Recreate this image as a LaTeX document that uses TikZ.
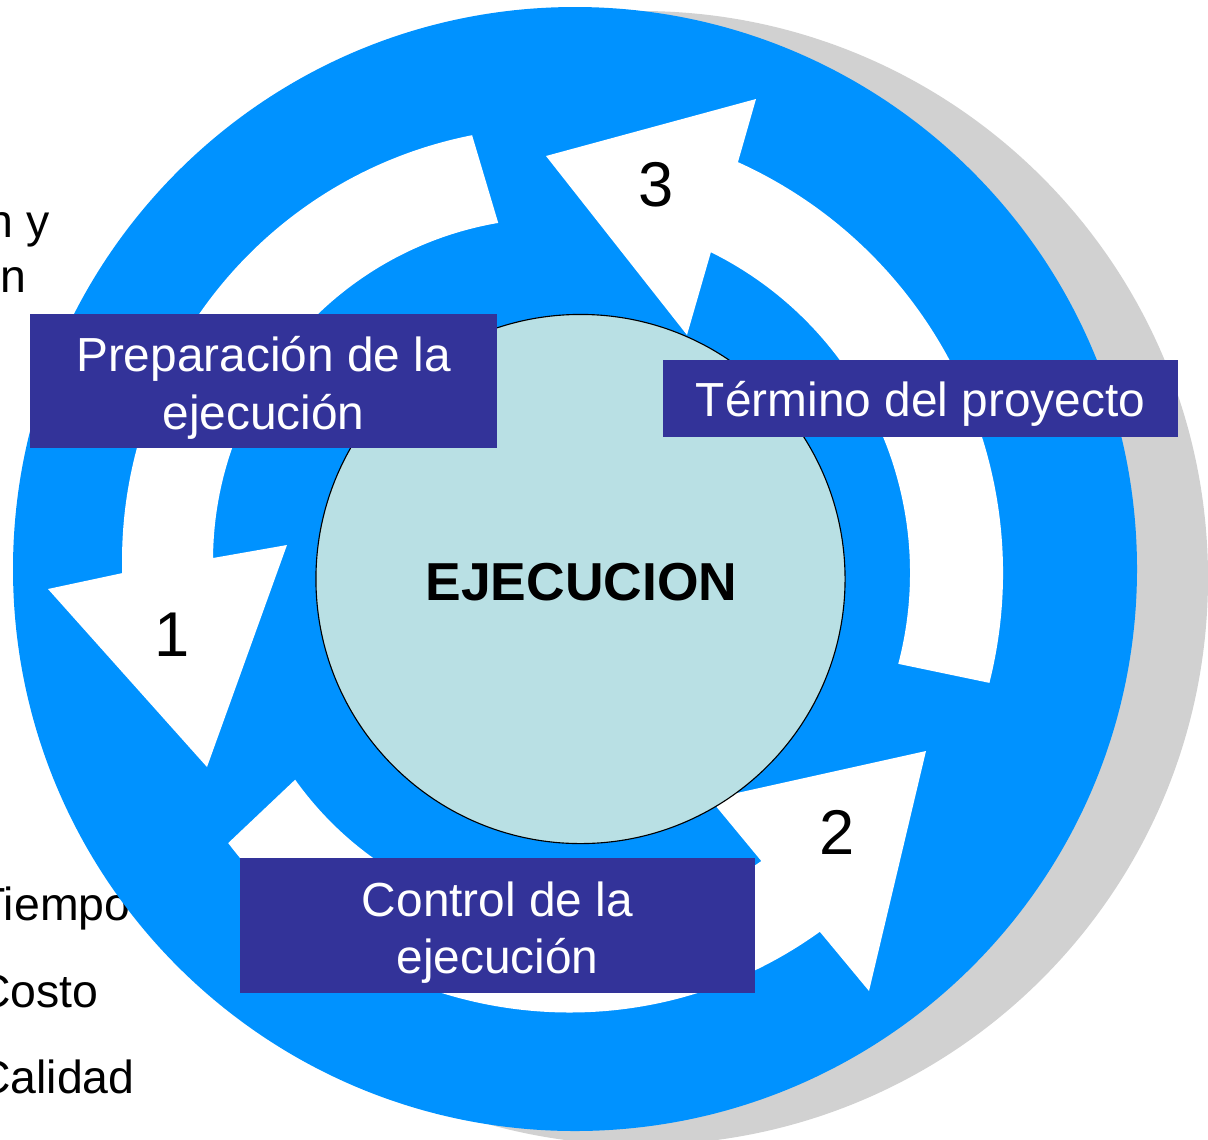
\documentclass[tikz,border=0pt]{standalone}
\usepackage{fontspec}
\setmainfont{Liberation Sans}
\usepackage{xcolor}
\usepackage{tikz}
\usetikzlibrary{calc}

\definecolor{ringblue}{RGB}{0,146,255}
\definecolor{shadowgrey}{RGB}{209,209,209}
\definecolor{boxnavy}{RGB}{51,51,153}
\definecolor{corefill}{RGB}{185,224,228}

\begin{document}
\begin{tikzpicture}[x=0.025cm, y=-0.025cm,
	stagebox/.style={rectangle, fill=boxnavy, inner sep=0pt},
	stagetext/.style={text=white, align=center, inner sep=0pt, font=\fontsize{34}{41}\selectfont},
	stepnum/.style={inner sep=0pt, font=\fontsize{45}{45}\selectfont},
	sidetext/.style={inner sep=0pt, font=\fontsize{33}{33}\selectfont}]

	\useasboundingbox (0,0) rectangle (1208,1139);
	\clip (0,0) rectangle (1208,1139);

	\node (side1) [sidetext, anchor=base east] at (50,237) {n y};
	\node (side2) [sidetext, anchor=base east] at (27,292) {n};
	\node (tiempo) [sidetext, anchor=base west] at (-23,920) {Tiempo};
	\node (costo) [sidetext, anchor=base west] at (-23,1007) {Costo};
	\node (calidad) [sidetext, anchor=base west] at (-23,1093) {Calidad};

	\fill[shadowgrey] (641,578) circle [radius=567];
	\fill[ringblue] (575,569) circle [radius=562];

	\coordinate (c1) at (556,561);
	\coordinate (c2) at (569.5,584);
	\coordinate (c3) at (552,573);

	\fill[white] ($(c1)+(258.85:434)$) arc[start angle=258.85, end angle=178.4, radius=434]
		-- (48,589) -- (207,767) -- (287,545)
		-- ($(c1)+(180.5:343)$) arc[start angle=180.5, end angle=260.3, radius=343] -- cycle;
	\fill[white] ($(c2)+(142.8:428.5)$) arc[start angle=142.8, end angle=54.25, radius=428.5]
		-- (869,991) -- (926,751) -- (710,799)
		-- ($(c2)+(55.3:337)$) arc[start angle=55.3, end angle=144.5, radius=337] -- cycle;
	\fill[white] ($(c3)+(14.1:451)$) arc[start angle=14.1, end angle=-65.65, radius=451]
		-- (756,99) -- (546,156) -- (687,335)
		-- ($(c3)+(-63.65:358)$) arc[start angle=-63.65, end angle=14.7, radius=358] -- cycle;

	\node (core) [circle, draw=black, line width=0.8pt, fill=corefill, minimum size=13.225cm, inner sep=0pt] at (580.5,579) {};
	\node (corelabel) [inner sep=0pt, font=\bfseries\fontsize{38}{38}\selectfont] at ($(core)+(1,3)$) {EJECUCION};

	\node (prep) [stagebox, minimum width=11.675cm, minimum height=3.35cm] at (263.5,381) {};
	\node (term) [stagebox, minimum width=12.875cm, minimum height=1.925cm] at (920.5,398.5) {};
	\node (ctrl) [stagebox, minimum width=12.875cm, minimum height=3.375cm] at (497.5,925.5) {};
	\node (preptext) [stagetext] at ($(prep)+(0,7)$) {Preparación de la\\ejecución};
	\node (termtext) [stagetext] at ($(term)+(0,5)$) {Término del proyecto};
	\node (ctrltext) [stagetext] at ($(ctrl)+(0,7)$) {Control de la\\ejecución};

	\node (n1) [stepnum] at (172,635) {1};
	\node (n2) [stepnum] at (837,832) {2};
	\node (n3) [stepnum] at (656,185) {3};

\end{tikzpicture}
\end{document}
